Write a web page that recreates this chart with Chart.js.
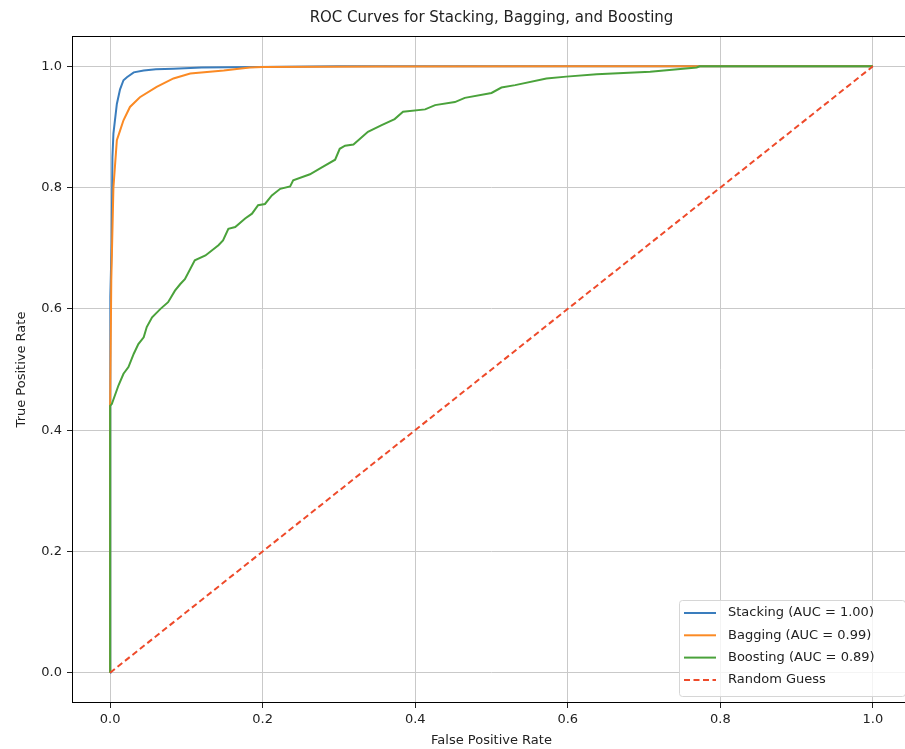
<!DOCTYPE html>
<html>
<head>
<meta charset="utf-8">
<script src="https://cdn.jsdelivr.net/npm/chart.js@4.4.1/dist/chart.umd.min.js"></script>
<style>
  html, body { margin: 0; padding: 0; background: #fff; overflow: hidden; }
  #wrap { width: 905px; height: 749px; overflow: hidden; }
</style>
</head>
<body>
<div id="wrap"><canvas id="roc" width="916" height="749"></canvas></div>
<script>
// data
const stackingFpr = [0, 0, 0.0005, 0.002, 0.003, 0.0043, 0.0088, 0.013, 0.0175, 0.022, 0.031, 0.044, 0.06, 0.083, 0.12, 0.192, 0.3, 1];
const stackingTpr = [0, 0.45, 0.62, 0.71, 0.85, 0.889, 0.938, 0.962, 0.977, 0.982, 0.99, 0.993, 0.995, 0.996, 0.998, 0.999, 1, 1];

const baggingFpr = [0, 0, 0.0015, 0.0043, 0.0088, 0.013, 0.0175, 0.026, 0.039, 0.061, 0.083, 0.105, 0.149, 0.183, 0.2, 0.35, 0.6, 1];
const baggingTpr = [0, 0.44, 0.647, 0.80, 0.878, 0.894, 0.911, 0.933, 0.949, 0.966, 0.980, 0.988, 0.993, 0.998, 0.999, 0.9995, 1, 1];

const boostingFpr = [0, 0, 0.0022, 0.011, 0.0175, 0.024, 0.031, 0.037, 0.044, 0.048, 0.055, 0.066, 0.076, 0.085, 0.092, 0.098, 0.111, 0.125, 0.142, 0.148, 0.155, 0.164, 0.177, 0.186, 0.194, 0.203,
  0.212, 0.223, 0.236, 0.240, 0.262, 0.277, 0.295, 0.301, 0.308, 0.319, 0.338, 0.356, 0.373, 0.384, 0.413, 0.426, 0.452, 0.465, 0.500, 0.513, 0.531, 0.572, 0.598, 0.638, 0.708, 0.769, 0.773, 1];
const boostingTpr = [0, 0.44, 0.443, 0.474, 0.493, 0.504, 0.526, 0.542, 0.553, 0.570, 0.586, 0.600, 0.611, 0.630, 0.641, 0.649, 0.680, 0.688, 0.705, 0.713, 0.732, 0.735, 0.749, 0.757, 0.771, 0.773,
  0.787, 0.798, 0.802, 0.812, 0.822, 0.833, 0.846, 0.864, 0.869, 0.871, 0.892, 0.903, 0.913, 0.925, 0.929, 0.936, 0.941, 0.948, 0.956, 0.965, 0.969, 0.980, 0.983, 0.987, 0.991, 0.998, 1.0, 1.0];

const randomFpr = [0, 1];
const randomTpr = [0, 1];

const seriesLabels = ['Stacking (AUC = 1.00)', 'Bagging (AUC = 0.99)', 'Boosting (AUC = 0.89)', 'Random Guess'];
const xTicks = [0, 0.2, 0.4, 0.6, 0.8, 1.0];
const yTicks = [0, 0.2, 0.4, 0.6, 0.8, 1.0];

const FONT = 'DejaVu Sans';

function pts(xs, ys) { return xs.map((x, i) => ({ x, y: ys[i] })); }

// later series drawn on top, like matplotlib
function line(label, data, color, order, dash) {
  return {
    label, data, order,
    borderColor: color, backgroundColor: color,
    borderWidth: 2, borderDash: dash || [],
    pointRadius: 0, pointHoverRadius: 0,
    showLine: true, tension: 0, fill: false
  };
}

// title, frame and in-axes legend
const mplExtras = {
  id: 'mplExtras',
  afterDraw(chart) {
    const { ctx, chartArea: a } = chart;
    ctx.save();
    ctx.strokeStyle = '#000';
    ctx.lineWidth = 1;
    ctx.strokeRect(a.left + 0.5, a.top + 0.5, a.right - a.left - 1, a.bottom - a.top - 1);

    ctx.fillStyle = '#222';
    ctx.font = '15px ' + FONT;
    ctx.textAlign = 'center';
    ctx.textBaseline = 'middle';
    ctx.fillText('ROC Curves for Stacking, Bagging, and Boosting', (a.left + a.right) / 2, 18);

    const bx = 679, by = 600, bw = 226, bh = 96;
    ctx.fillStyle = 'rgba(255,255,255,0.8)';
    ctx.strokeStyle = '#d6d6d6';
    ctx.beginPath();
    ctx.roundRect(bx + 0.5, by + 0.5, bw, bh, 3);
    ctx.fill();
    ctx.stroke();
    ctx.font = '13px ' + FONT;
    ctx.textAlign = 'left';
    chart.data.datasets.forEach((ds, i) => {
      const y = by + 13 + i * 22.3;
      ctx.strokeStyle = ds.borderColor;
      ctx.lineWidth = 2;
      ctx.setLineDash(ds.borderDash);
      ctx.beginPath();
      ctx.moveTo(bx + 5, y);
      ctx.lineTo(bx + 37, y);
      ctx.stroke();
      ctx.setLineDash([]);
      ctx.fillStyle = '#222';
      ctx.fillText(ds.label, bx + 49, y);
    });
    ctx.restore();
  }
};

new Chart(document.getElementById('roc'), {
  type: 'scatter',
  data: {
    datasets: [
      line(seriesLabels[0], pts(stackingFpr, stackingTpr), '#3a7dbd', 4),
      line(seriesLabels[1], pts(baggingFpr, baggingTpr), '#fb8a24', 3),
      line(seriesLabels[2], pts(boostingFpr, boostingTpr), '#4aa23b', 2),
      line(seriesLabels[3], pts(randomFpr, randomTpr), '#ee4a2a', 1, [6, 3.5])
    ]
  },
  options: {
    responsive: false,
    animation: false,
    events: [],
    layout: { padding: { top: 36, right: 5, left: 0, bottom: 0 } },
    plugins: { legend: { display: false }, title: { display: false }, tooltip: { enabled: false } },
    scales: {
      x: {
        type: 'linear', min: -0.05, max: 1.05,
        afterBuildTicks: s => { s.ticks = xTicks.map(v => ({ value: v })); },
        afterFit: s => { s.height = 46; },
        grid: { color: '#c9c9c9', lineWidth: 1, tickLength: 5, tickColor: '#222' },
        border: { display: false },
        ticks: { color: '#222', padding: 4, font: { family: FONT, size: 13 }, callback: v => v.toFixed(1) },
        title: { display: true, text: 'False Positive Rate', color: '#222', font: { family: FONT, size: 13 }, padding: { top: 0, bottom: 1 } }
      },
      y: {
        type: 'linear', min: -0.05, max: 1.05,
        afterBuildTicks: s => { s.ticks = yTicks.map(v => ({ value: v })); },
        afterFit: s => { s.width = 72; },
        grid: { color: '#c9c9c9', lineWidth: 1, tickLength: 5, tickColor: '#222' },
        border: { display: false },
        ticks: { color: '#222', padding: 5, font: { family: FONT, size: 13 }, callback: v => v.toFixed(1) },
        title: { display: true, text: 'True Positive Rate', color: '#222', font: { family: FONT, size: 13 }, padding: { top: 14, bottom: 0 } }
      }
    }
  },
  plugins: [mplExtras]
});
</script>
</body>
</html>
